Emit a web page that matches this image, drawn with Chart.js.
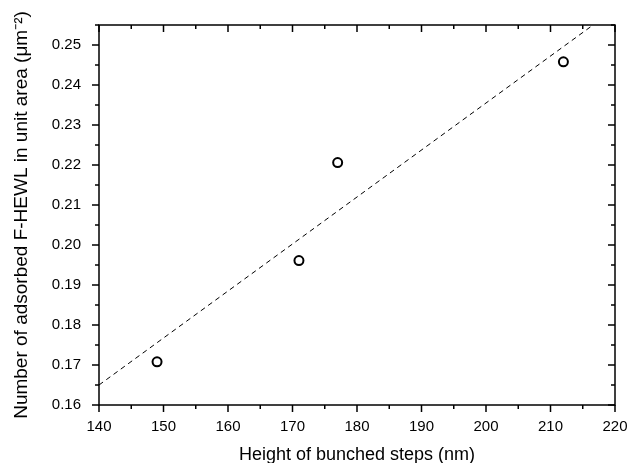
<!DOCTYPE html>
<html lang="en">
<head>
  <meta charset="UTF-8">
  <title>Adsorbed F-HEWL vs step height</title>
  <script src="https://cdn.jsdelivr.net/npm/chart.js"></script>
  <style>
    html, body { margin: 0; padding: 0; background: #fff; }
    #wrap { width: 629px; height: 463px; }
  </style>
</head>
<body>
  <div id="wrap"><canvas id="chart" width="629" height="463"></canvas></div>

  <script>
    // measured points
    const stepHeight = [149, 171, 177, 212];
    const adsorbed = [0.1708, 0.1961, 0.2206, 0.2458];

    // dashed linear fit, clipped at top of frame
    const fitX = [140, 216.6];
    const fitY = [0.165, 0.255];

    // tick labels
    const xTicks = [140, 150, 160, 170, 180, 190, 200, 210, 220];
    const yTicks = [0.16, 0.17, 0.18, 0.19, 0.20, 0.21, 0.22, 0.23, 0.24, 0.25];

    const font = { family: 'Liberation Sans, Arial, sans-serif', size: 15 };
    const titleFont = { family: 'Liberation Sans, Arial, sans-serif', size: 18 };

    // frame and Origin-style ticks (out on bottom/left, in on top/right)
    const framePlugin = {
      id: 'frame',
      afterDraw(chart) {
        const { ctx, chartArea: a, scales: { x, y } } = chart;
        ctx.save();
        ctx.strokeStyle = '#000';
        ctx.lineWidth = 1.5;
        ctx.strokeRect(a.left, a.top, a.right - a.left, a.bottom - a.top);
        ctx.beginPath();
        for (let v = 140; v <= 220; v += 5) {
          const px = x.getPixelForValue(v);
          const len = v % 10 === 0 ? 7 : 4;
          ctx.moveTo(px, a.bottom); ctx.lineTo(px, a.bottom + len);
          ctx.moveTo(px, a.top); ctx.lineTo(px, a.top + len);
        }
        for (let i = 0; i <= 19; i++) {
          const v = 0.16 + i * 0.005;
          const py = y.getPixelForValue(v);
          const len = i % 2 === 0 ? 7 : 4;
          ctx.moveTo(a.left, py); ctx.lineTo(a.left - len, py);
          ctx.moveTo(a.right, py); ctx.lineTo(a.right - len, py);
        }
        ctx.stroke();
        ctx.restore();
      }
    };

    new Chart(document.getElementById('chart'), {
      type: 'scatter',
      data: {
        datasets: [
          {
            label: 'fit',
            data: fitX.map((v, i) => ({ x: v, y: fitY[i] })),
            showLine: true,
            borderColor: '#000',
            borderWidth: 1,
            borderDash: [5, 4],
            pointRadius: 0,
            fill: false
          },
          {
            label: 'data',
            data: stepHeight.map((v, i) => ({ x: v, y: adsorbed[i] })),
            pointStyle: 'circle',
            pointRadius: 4.5,
            pointBorderWidth: 2,
            pointBorderColor: '#000',
            pointBackgroundColor: 'rgba(255,255,255,0)'
          }
        ]
      },
      options: {
        responsive: false,
        animation: false,
        layout: { padding: { top: 25, right: 0, left: 6, bottom: 0 } },
        plugins: { legend: { display: false }, tooltip: { enabled: false } },
        scales: {
          x: {
            type: 'linear',
            min: 140, max: 220,
            afterBuildTicks: s => { s.ticks = xTicks.map(v => ({ value: v })); },
            afterFit: s => { s.height = 58; s.paddingRight = 14; },
            grid: { display: false },
            border: { display: false },
            ticks: { color: '#000', font, padding: 5, maxRotation: 0 },
            title: { display: true, text: 'Height of bunched steps (nm)', color: '#000', font: titleFont, padding: { top: 0, bottom: -3 } }
          },
          y: {
            type: 'linear',
            min: 0.16, max: 0.255,
            afterBuildTicks: s => { s.ticks = yTicks.map(v => ({ value: v })); },
            afterFit: s => { s.width = 93; },
            grid: { display: false },
            border: { display: false },
            ticks: { color: '#000', font, padding: 10, callback: v => v.toFixed(2) },
            title: { display: true, text: 'Number of adsorbed F-HEWL in unit area (\u03bcm\u207b\u00b2)', color: '#000', font: { ...titleFont, size: 19 }, padding: { bottom: 0 } }
          }
        }
      },
      plugins: [framePlugin]
    });
  </script>
</body>
</html>
